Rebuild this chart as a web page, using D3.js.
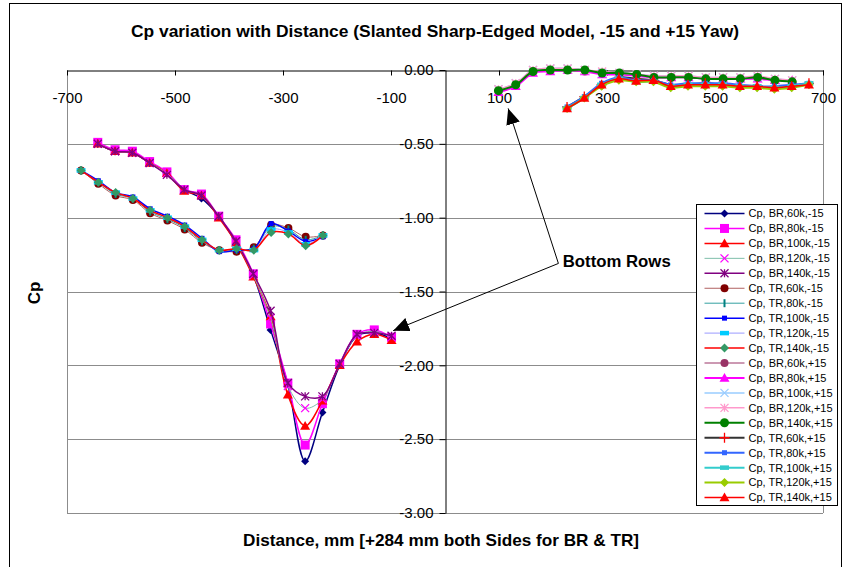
<!DOCTYPE html>
<html>
<head>
<meta charset="utf-8">
<script src="https://cdn.jsdelivr.net/npm/d3@7"></script>
<style>
	body { margin: 0; background: #fff; }
	svg { font-family: Arial, "Liberation Sans", sans-serif; }
</style>
</head>
<body>
<div id="chart"></div>
<script>
// distances (mm) of the pressure taps
var xBRneg = [-643, -611, -579, -547, -515, -483, -451, -419, -387, -355, -323, -291, -259, -227, -195, -163, -131, -99];
var xTRneg = [-674, -642, -610, -578, -546, -514, -482, -450, -418, -386, -354, -322, -290, -258, -226];
var xBRpos = [99, 131, 163, 195, 227, 259, 291, 323, 355, 387, 419, 451, 483, 515, 547, 579, 611, 643];
var xTRpos = [226, 258, 290, 322, 354, 386, 418, 450, 482, 514, 546, 578, 610, 642, 674];

// Cp, bottom rows, -15 yaw
var cpBR60kNeg  = [-0.50, -0.55, -0.56, -0.63, -0.70, -0.81, -0.87, -0.99, -1.17, -1.39, -1.76, -2.13, -2.65, -2.32, -2.00, -1.80, -1.78, -1.82];
var cpBR80kNeg  = [-0.49, -0.54, -0.55, -0.62, -0.69, -0.81, -0.84, -0.99, -1.15, -1.38, -1.72, -2.12, -2.54, -2.26, -1.99, -1.79, -1.76, -1.81];
var cpBR100kNeg = [-0.50, -0.55, -0.56, -0.63, -0.70, -0.82, -0.85, -1.00, -1.17, -1.40, -1.67, -2.20, -2.41, -2.24, -2.00, -1.84, -1.79, -1.83];
var cpBR120kNeg = [-0.50, -0.55, -0.56, -0.63, -0.70, -0.81, -0.85, -0.99, -1.16, -1.39, -1.68, -2.14, -2.29, -2.23, -1.99, -1.80, -1.77, -1.81];
var cpBR140kNeg = [-0.50, -0.55, -0.56, -0.63, -0.71, -0.81, -0.85, -0.99, -1.16, -1.38, -1.63, -2.12, -2.21, -2.21, -1.99, -1.79, -1.78, -1.80];
// Cp, top rows, -15 yaw
var cpTR60kNeg  = [-0.68, -0.77, -0.85, -0.88, -0.97, -1.02, -1.08, -1.17, -1.22, -1.23, -1.20, -1.05, -1.07, -1.13, -1.12];
var cpTR80kNeg  = [-0.68, -0.76, -0.84, -0.87, -0.96, -1.01, -1.07, -1.16, -1.22, -1.22, -1.21, -1.06, -1.08, -1.15, -1.12];
var cpTR100kNeg = [-0.68, -0.75, -0.83, -0.86, -0.94, -0.99, -1.05, -1.14, -1.23, -1.22, -1.21, -1.04, -1.09, -1.16, -1.13];
var cpTR120kNeg = [-0.68, -0.76, -0.83, -0.87, -0.95, -1.00, -1.06, -1.15, -1.22, -1.21, -1.22, -1.08, -1.10, -1.18, -1.12];
var cpTR140kNeg = [-0.68, -0.76, -0.83, -0.87, -0.95, -1.00, -1.06, -1.15, -1.22, -1.21, -1.22, -1.10, -1.11, -1.19, -1.12];
// Cp, bottom rows, +15 yaw
var cpBR60kPos  = [-0.14, -0.10, -0.01, 0.00, 0.00, -0.01, -0.02, -0.03, -0.03, -0.05, -0.05, -0.05, -0.06, -0.06, -0.06, -0.05, -0.07, -0.08];
var cpBR80kPos  = [-0.15, -0.11, -0.02, -0.01, 0.00, -0.01, -0.03, -0.03, -0.04, -0.05, -0.05, -0.05, -0.06, -0.06, -0.06, -0.06, -0.07, -0.07];
var cpBR100kPos = [-0.13, -0.09, 0.00, 0.01, 0.01, 0.00, -0.02, -0.02, -0.03, -0.04, -0.04, -0.04, -0.05, -0.05, -0.05, -0.05, -0.06, -0.07];
var cpBR120kPos = [-0.13, -0.09, 0.00, 0.01, 0.01, 0.00, -0.01, -0.02, -0.03, -0.04, -0.04, -0.04, -0.05, -0.05, -0.05, -0.04, -0.06, -0.07];
var cpBR140kPos = [-0.14, -0.10, -0.01, 0.00, 0.00, 0.00, -0.02, -0.02, -0.03, -0.05, -0.05, -0.05, -0.06, -0.06, -0.06, -0.05, -0.07, -0.08];
// Cp, top rows, +15 yaw
var cpTR60kPos  = [-0.25, -0.18, -0.10, -0.05, -0.06, -0.07, -0.10, -0.10, -0.09, -0.10, -0.11, -0.11, -0.12, -0.11, -0.09];
var cpTR80kPos  = [-0.25, -0.18, -0.09, -0.05, -0.07, -0.07, -0.10, -0.09, -0.09, -0.09, -0.10, -0.11, -0.11, -0.10, -0.09];
var cpTR100kPos = [-0.26, -0.19, -0.10, -0.06, -0.08, -0.08, -0.11, -0.10, -0.10, -0.10, -0.11, -0.11, -0.12, -0.11, -0.09];
var cpTR120kPos = [-0.26, -0.19, -0.11, -0.07, -0.08, -0.08, -0.12, -0.11, -0.11, -0.11, -0.12, -0.12, -0.13, -0.12, -0.10];
var cpTR140kPos = [-0.26, -0.19, -0.10, -0.06, -0.075, -0.07, -0.11, -0.10, -0.10, -0.10, -0.11, -0.11, -0.12, -0.11, -0.10];

var seriesNames = [
	"Cp, BR,60k,-15", "Cp, BR,80k,-15", "Cp, BR,100k,-15", "Cp, BR,120k,-15", "Cp, BR,140k,-15",
	"Cp, TR,60k,-15", "Cp, TR,80k,-15", "Cp, TR,100k,-15", "Cp, TR,120k,-15", "Cp, TR,140k,-15",
	"Cp, BR,60k,+15", "Cp, BR,80k,+15", "Cp, BR,100k,+15", "Cp, BR,120k,+15", "Cp, BR,140k,+15",
	"Cp, TR,60k,+15", "Cp, TR,80k,+15", "Cp, TR,100k,+15", "Cp, TR,120k,+15", "Cp, TR,140k,+15"
];
var seriesX = [
	xBRneg, xBRneg, xBRneg, xBRneg, xBRneg,
	xTRneg, xTRneg, xTRneg, xTRneg, xTRneg,
	xBRpos, xBRpos, xBRpos, xBRpos, xBRpos,
	xTRpos, xTRpos, xTRpos, xTRpos, xTRpos
];
var seriesY = [
	cpBR60kNeg, cpBR80kNeg, cpBR100kNeg, cpBR120kNeg, cpBR140kNeg,
	cpTR60kNeg, cpTR80kNeg, cpTR100kNeg, cpTR120kNeg, cpTR140kNeg,
	cpBR60kPos, cpBR80kPos, cpBR100kPos, cpBR120kPos, cpBR140kPos,
	cpTR60kPos, cpTR80kPos, cpTR100kPos, cpTR120kPos, cpTR140kPos
];
var xTicks = [-700, -500, -300, -100, 100, 300, 500, 700];
var yTicks = [0, -0.5, -1, -1.5, -2, -2.5, -3];

// line colour, line width, marker, marker colour, marker size
var styles = [
	["#000080", 1.5, "diamond", "#000080", 8],
	["#ff00ff", 1.5, "square", "#ff00ff", 9],
	["#ff0000", 1.5, "triangle", "#ff0000", 10],
	["#7fbfaa", 1, "x", "#ff00ff", 8],
	["#800080", 1.5, "asterisk", "#800080", 8],
	["#b06060", 1, "circle", "#800000", 8],
	["#33a0a0", 1, "vbar", "#008080", 8],
	["#0000ff", 1.5, "small", "#0000ff", 5],
	["#9999ff", 1, "wide", "#00ccff", 9],
	["#ff0000", 1.5, "diamond", "#339966", 9],
	["#993366", 1, "circle", "#993366", 8],
	["#ff00ff", 2, "triangle", "#ff00ff", 10],
	["#99ccff", 1.5, "x", "#99ccff", 8],
	["#ff99cc", 1.5, "asterisk", "#ff99cc", 8],
	["#008000", 2, "circle", "#008000", 9],
	["#333333", 2, "plus", "#ff0000", 10],
	["#3366ff", 2, "small", "#3366ff", 5],
	["#33cccc", 2, "wide", "#33cccc", 9],
	["#99cc00", 2, "diamond", "#99cc00", 9],
	["#ff0000", 1.5, "triangle", "#ff0000", 10]
];

var strokeMarkers = { x: 1, asterisk: 1, plus: 1, vbar: 1 };

function markerPath(type, s) {
	var h = s / 2;
	switch(type) {
		case "diamond": return "M0," + (-h) + "L" + h + ",0L0," + h + "L" + (-h) + ",0Z";
		case "square": return "M" + (-h) + "," + (-h) + "h" + s + "v" + s + "h" + (-s) + "Z";
		case "small": return "M" + (-h) + "," + (-h) + "h" + s + "v" + s + "h" + (-s) + "Z";
		case "wide": return "M" + (-h) + "," + (-h * 0.5) + "h" + s + "v" + h + "h" + (-s) + "Z";
		case "triangle": return "M0," + (-h) + "L" + h + "," + (h * 0.75) + "L" + (-h) + "," + (h * 0.75) + "Z";
		case "circle": return "M" + h + ",0A" + h + "," + h + " 0 1,1 " + (-h) + ",0A" + h + "," + h + " 0 1,1 " + h + ",0Z";
		case "x": return "M" + (-h) + "," + (-h) + "L" + h + "," + h + "M" + (-h) + "," + h + "L" + h + "," + (-h);
		case "asterisk": return "M" + (-h) + "," + (-h) + "L" + h + "," + h + "M" + (-h) + "," + h + "L" + h + "," + (-h) + "M0," + (-h) + "L0," + h;
		case "plus": return "M" + (-h) + ",0L" + h + ",0M0," + (-h) + "L0," + h;
		case "vbar": return "M0," + (-h) + "L0," + h;
	}
}

function styleMarker(sel, st) {
	if(strokeMarkers[st[2]]) {
		sel.attr("fill", "none").attr("stroke", st[3]).attr("stroke-width", st[2] == "vbar" ? 2 : 1.3);
	} else {
		sel.attr("fill", st[3]).attr("stroke", "none");
	}
}

var width = 845, height = 567;
var plot = { left: 67, right: 823, top: 70, bottom: 513 };

var svg = d3.select("#chart").append("svg")
	.attr("width", width)
	.attr("height", height);

var x = d3.scaleLinear().domain([-700, 700]).range([plot.left, plot.right]);
var y = d3.scaleLinear().domain([-3, 0]).range([plot.bottom, plot.top]);

// outer chart frame
svg.append("rect")
	.attr("x", 9.5).attr("y", 3.5)
	.attr("width", 832).attr("height", 620)
	.attr("fill", "none").attr("stroke", "#000");

// title
svg.append("text")
	.attr("x", 435).attr("y", 31)
	.attr("text-anchor", "middle").attr("dy", "0.35em")
	.attr("textLength", 608).attr("lengthAdjust", "spacingAndGlyphs")
	.style("font-size", "17px").style("font-weight", "bold")
	.text("Cp variation with Distance (Slanted Sharp-Edged Model, -15 and +15 Yaw)");

// gridlines
svg.append("g").selectAll("line")
	.data(yTicks.slice(1)).enter()
	.append("line")
		.attr("x1", plot.left).attr("x2", plot.right)
		.attr("y1", function(d) { return Math.round(y(d)) + 0.5; })
		.attr("y2", function(d) { return Math.round(y(d)) + 0.5; })
		.attr("stroke", "#8c8c8c");

// plot sides
svg.append("g").selectAll("line")
	.data([plot.left, plot.right]).enter()
	.append("line")
		.attr("x1", function(d) { return d + 0.5; }).attr("x2", function(d) { return d + 0.5; })
		.attr("y1", plot.top).attr("y2", plot.bottom)
		.attr("stroke", "#8c8c8c");

// x axis, drawn at Cp = 0
var xAxis = svg.append("g")
	.attr("transform", "translate(0," + (Math.round(y(0)) + 0.5) + ")")
	.call(d3.axisBottom(x).tickValues(xTicks).tickSize(5).tickSizeOuter(0)
		.tickFormat(function(d) { return String(d); }));
xAxis.select(".domain").attr("stroke", "#000");
xAxis.selectAll("text")
	.attr("y", 27).attr("dy", "0.35em")
	.attr("fill", "#000")
	.style("font-size", "15px").style("font-family", "Arial, 'Liberation Sans', sans-serif");

// y axis, drawn at x = 0
var yAxis = svg.append("g")
	.attr("transform", "translate(" + (Math.round(x(0)) + 0.5) + ",0)")
	.call(d3.axisLeft(y).tickValues(yTicks).tickSize(6).tickSizeOuter(0)
		.tickFormat(function(d) { return d.toFixed(2); }));
yAxis.select(".domain").attr("stroke", "#000");
yAxis.selectAll("text")
	.attr("x", -12)
	.attr("fill", "#000")
	.style("font-size", "15px").style("font-family", "Arial, 'Liberation Sans', sans-serif");

// axis titles
svg.append("text")
	.attr("x", 441).attr("y", 540)
	.attr("text-anchor", "middle").attr("dy", "0.35em")
	.attr("textLength", 396).attr("lengthAdjust", "spacingAndGlyphs")
	.style("font-size", "17px").style("font-weight", "bold")
	.text("Distance, mm [+284 mm both Sides for BR & TR]");
svg.append("text")
	.attr("transform", "translate(34,293) rotate(-90)")
	.attr("text-anchor", "middle").attr("dy", "0.35em")
	.style("font-size", "17px").style("font-weight", "bold")
	.text("Cp");

// series
var line = d3.line()
	.x(function(d) { return x(d[0]); })
	.y(function(d) { return y(d[1]); })
	.curve(d3.curveCatmullRom.alpha(0.5));

var seriesG = svg.append("g");
seriesNames.forEach(function(name, i) {
	var st = styles[i];
	var pts = seriesX[i].map(function(v, j) { return [v, seriesY[i][j]]; });
	var g = seriesG.append("g").attr("class", "series");
	g.append("path")
		.attr("d", line(pts))
		.attr("fill", "none")
		.attr("stroke", st[0])
		.attr("stroke-width", st[1]);
	g.selectAll(".mk")
		.data(pts).enter()
		.append("path")
			.attr("class", "mk")
			.attr("transform", function(d) { return "translate(" + x(d[0]) + "," + y(d[1]) + ")"; })
			.attr("d", markerPath(st[2], st[4]))
			.call(styleMarker, st);
});

// legend
var legend = svg.append("g").attr("transform", "translate(696.5,204.5)");
legend.append("rect")
	.attr("width", 141).attr("height", 301)
	.attr("fill", "#fff").attr("stroke", "#000");
var rows = legend.selectAll(".row")
	.data(seriesNames).enter()
	.append("g")
		.attr("transform", function(d, i) { return "translate(0," + (9 + i * 14.95) + ")"; });
rows.append("line")
	.attr("x1", 8).attr("x2", 48)
	.attr("stroke", function(d, i) { return styles[i][0]; })
	.attr("stroke-width", function(d, i) { return styles[i][1]; });
rows.append("path")
	.attr("transform", "translate(28,0)")
	.attr("d", function(d, i) { return markerPath(styles[i][2], styles[i][4]); })
	.each(function(d, i) { d3.select(this).call(styleMarker, styles[i]); });
rows.append("text")
	.attr("x", 52).attr("dy", "0.35em")
	.style("font-size", "11px")
	.text(function(d) { return d; });

// annotation
var annLabel = [218, -1.296];
var annFrom = [210, -1.31];
var annTips = [[117, -0.26], [-96, -1.765]];

svg.append("defs").append("marker")
	.attr("id", "arrow")
	.attr("markerUnits", "userSpaceOnUse")
	.attr("markerWidth", 16).attr("markerHeight", 14)
	.attr("refX", 16).attr("refY", 7)
	.attr("orient", "auto")
	.append("path")
		.attr("d", "M0,0L16,7L0,14Z")
		.attr("fill", "#000");

svg.append("g").selectAll("line")
	.data(annTips).enter()
	.append("line")
		.attr("x1", x(annFrom[0])).attr("y1", y(annFrom[1]))
		.attr("x2", function(d) { return x(d[0]); })
		.attr("y2", function(d) { return y(d[1]); })
		.attr("stroke", "#000").attr("stroke-width", 1)
		.attr("marker-end", "url(#arrow)");

svg.append("text")
	.attr("x", x(annLabel[0])).attr("y", y(annLabel[1]))
	.attr("dy", "0.35em")
	.attr("textLength", 108).attr("lengthAdjust", "spacingAndGlyphs")
	.style("font-size", "16.5px").style("font-weight", "bold")
	.text("Bottom Rows");
</script>
</body>
</html>
